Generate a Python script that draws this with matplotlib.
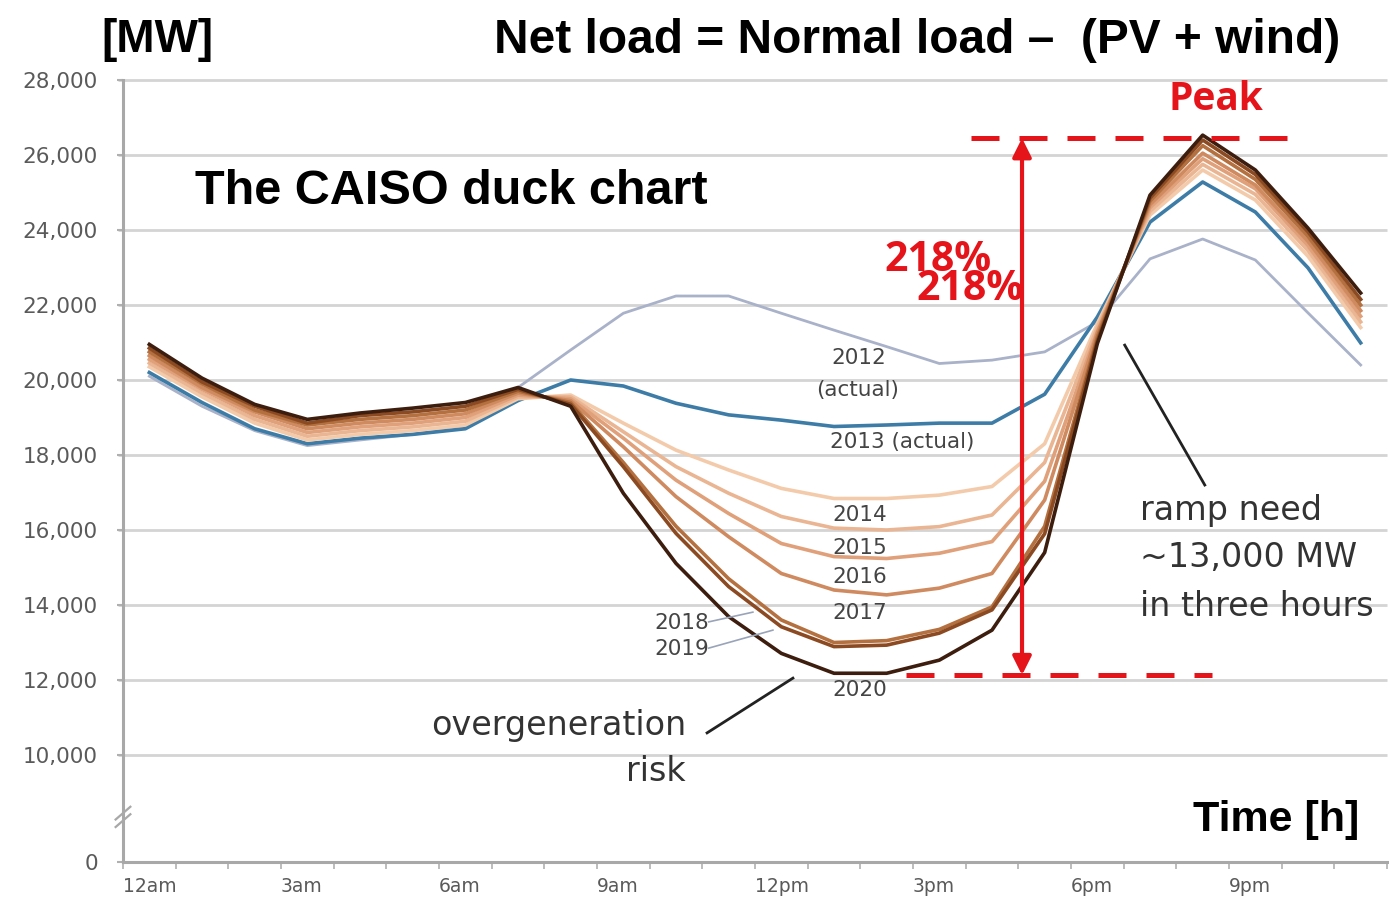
import matplotlib
matplotlib.use("Agg")
import matplotlib.pyplot as plt

# hourly net load [MW], points sit in the middle of each hour slot
hours = list(range(24))
years = ["2012", "2013", "2014", "2015", "2016", "2017", "2018", "2019", "2020"]

load_2012 = [20100, 19300, 18650, 18250, 18400, 18550, 18750, 19800, 20800, 21780,
             22240, 22240, 21780, 21330, 20890, 20440, 20530, 20750, 21550, 23230,
             23760, 23200, 21790, 20400]
load_2013 = [20200, 19400, 18700, 18300, 18450, 18550, 18700, 19450, 20000, 19840,
             19380, 19070, 18930, 18760, 18800, 18850, 18850, 19620, 21680, 24210,
             25280, 24480, 22990, 20990]
load_2014 = [20350, 19550, 18850, 18400, 18550, 18650, 18800, 19500, 19600, 18850,
             18130, 17600, 17110, 16840, 16840, 16930, 17160, 18300, 21500, 24400,
             25600, 24800, 23300, 21400]
load_2015 = [20450, 19650, 18950, 18500, 18650, 18750, 18900, 19550, 19550, 18620,
             17690, 16980, 16360, 16050, 16000, 16090, 16400, 17800, 21400, 24500,
             25750, 24950, 23450, 21550]
load_2016 = [20550, 19750, 19050, 18600, 18750, 18850, 19000, 19600, 19500, 18450,
             17330, 16440, 15640, 15290, 15240, 15380, 15690, 17300, 21300, 24600,
             25900, 25100, 23580, 21700]
load_2017 = [20650, 19800, 19150, 18700, 18850, 18950, 19100, 19650, 19450, 18220,
             16890, 15820, 14840, 14400, 14270, 14450, 14840, 16800, 21250, 24680,
             26050, 25200, 23700, 21850]
load_2018 = [20750, 19900, 19200, 18800, 18950, 19050, 19200, 19700, 19400, 17800,
             16100, 14700, 13600, 13000, 13050, 13350, 13950, 16100, 21150, 24770,
             26250, 25350, 23830, 22000]
load_2019 = [20850, 19950, 19300, 18850, 19050, 19150, 19300, 19750, 19350, 17690,
             15910, 14490, 13420, 12890, 12930, 13250, 13870, 15900, 21050, 24850,
             26400, 25480, 23950, 22150]
load_2020 = [20950, 20050, 19350, 18950, 19120, 19250, 19400, 19800, 19300, 16980,
             15110, 13690, 12710, 12180, 12180, 12530, 13330, 15400, 20970, 24930,
             26530, 25600, 24050, 22320]
all_loads = [load_2012, load_2013, load_2014, load_2015, load_2016, load_2017,
             load_2018, load_2019, load_2020]

line_colors = ["#a9b2c9", "#3d7ca6", "#f3cbab", "#eab592", "#dfa07a", "#cf8a5f",
               "#b4703f", "#8b4a22", "#3c1d0e"]
line_widths = [2.0, 2.6, 2.6, 2.6, 2.6, 2.6, 2.6, 2.6, 2.6]

y_ticks = [10000, 12000, 14000, 16000, 18000, 20000, 22000, 24000, 26000, 28000]
x_tick_labels = ["12am", "3am", "6am", "9am", "12pm", "3pm", "6pm", "9pm"]

peak_level = 26450
valley_level = 12130

# the y axis is broken below 10,000: "0" sits at the bottom edge
axis_zero = 7147

red = "#e5141b"
gray_text = "#5a5a5a"
label_font = "DejaVu Sans"

fig = plt.figure(figsize=(13.89, 9.0), dpi=100)
ax = fig.add_axes([123 / 1389, 38 / 900, 1264 / 1389, 782 / 900])

for y in y_ticks:
    ax.hlines(y, -0.1, 24, color="#d4d4d4", lw=2.0, clip_on=False, zorder=1)

x_mid = [h + 0.5 for h in hours]
for load, color, lw in zip(all_loads, line_colors, line_widths):
    ax.plot(x_mid, load, color=color, lw=lw, zorder=3, solid_joinstyle="round")

ax.set_xlim(0, 24)
ax.set_ylim(axis_zero, 28000)

for side in ["top", "right"]:
    ax.spines[side].set_visible(False)
for side in ["left", "bottom"]:
    ax.spines[side].set_color("#a8a8a8")
    ax.spines[side].set_linewidth(2.2)

ax.set_yticks([axis_zero] + y_ticks)
ax.set_yticklabels(["0"] + [f"{v:,}" for v in y_ticks], family=label_font,
                   fontsize=15.5, color=gray_text)
ax.tick_params(axis="y", length=4, width=1.5, color="#b0b0b0", pad=14)

ax.set_xticks(hours + [24])
ax.set_xticklabels([x_tick_labels[h // 3] if h % 3 == 0 and h < 24 else ""
                    for h in hours + [24]],
                   family=label_font, fontsize=13.5, color=gray_text, ha="left")
ax.tick_params(axis="x", length=5, width=1.2, color="#b0b0b0", pad=6)

# axis break marks
ax.plot([-0.14, 0.14], [8280, 8620], color="#a8a8a8", lw=1.6, clip_on=False, zorder=5)
ax.plot([-0.14, 0.14], [8080, 8420], color="#a8a8a8", lw=1.6, clip_on=False, zorder=5)

# year labels
year_style = dict(family=label_font, fontsize=15.5, color="#444444", ha="center",
                  va="center", zorder=4)
ax.text(13.97, 20590, "2012", **year_style)
ax.text(13.95, 19730, "(actual)", **year_style)
ax.text(14.79, 18350, "2013 (actual)", **year_style)
ax.text(13.99, 16400, "2014", **year_style)
ax.text(13.99, 15520, "2015", **year_style)
ax.text(13.99, 14750, "2016", **year_style)
ax.text(13.99, 13790, "2017", **year_style)
ax.text(13.99, 11730, "2020", **year_style)
ax.text(11.12, 13520, "2018", **dict(year_style, ha="right"))
ax.text(11.12, 12830, "2019", **dict(year_style, ha="right"))
ax.plot([11.12, 11.96], [13550, 13810], color="#9aa4b8", lw=1.2, zorder=4)
ax.plot([11.12, 12.34], [12850, 13330], color="#9aa4b8", lw=1.2, zorder=4)

# overgeneration / ramp notes
note_style = dict(family=label_font, fontsize=24, color="#333333", zorder=4)
ax.text(10.69, 10800, "overgeneration", ha="right", va="center", **note_style)
ax.text(10.69, 9550, "risk", ha="right", va="center", **note_style)
ax.plot([11.09, 12.72], [10590, 12050], color="#222222", lw=2.0, zorder=4)
ax.text(19.31, 16530, "ramp need", ha="left", va="center", **note_style)
ax.text(19.31, 15280, "~13,000 MW", ha="left", va="center", **note_style)
ax.text(19.31, 13970, "in three hours", ha="left", va="center", **note_style)
ax.plot([19.02, 20.54], [20930, 17200], color="#222222", lw=2.0, zorder=4)

# peak / valley markers
dash = (0, (5.6, 4.0))
ax.plot([16.1, 22.1], [peak_level, peak_level], color=red, lw=3.6, ls=dash,
        zorder=6, clip_on=False)
ax.plot([14.86, 20.67], [valley_level, valley_level], color=red, lw=3.6, ls=dash,
        zorder=6, clip_on=False)
ax.annotate("", xy=(17.07, peak_level), xytext=(17.07, valley_level),
            arrowprops=dict(arrowstyle="<|-|>", color=red, lw=3.0,
                            mutation_scale=28, shrinkA=0, shrinkB=0), zorder=6)

title_font = "Liberation Sans"
fig.text(0.113, 0.955, "[MW]", family=title_font, weight="bold", fontsize=33,
         ha="center", va="center")
fig.text(0.660, 0.955, "Net load = Normal load \u2013  (PV + wind)", family=title_font,
         weight="bold", fontsize=34.5, ha="center", va="center")
fig.text(0.325, 0.787, "The CAISO duck chart", family=title_font, weight="bold",
         fontsize=35, ha="center", va="center")
fig.text(0.919, 0.089, "Time [h]", family=title_font, weight="bold", fontsize=31,
         ha="center", va="center")

red_font = "Open Sans"
fig.text(0.875, 0.889, "Peak", family=red_font, weight="bold", fontsize=28,
         color=red, ha="center", va="center")
fig.text(0.675, 0.711, "218%", family=red_font, weight="bold", fontsize=29.5,
         color=red, ha="center", va="center")
fig.text(0.698, 0.678, "218%", family=red_font, weight="bold", fontsize=29.5,
         color=red, ha="center", va="center")

fig.savefig("out.png", dpi=100)
